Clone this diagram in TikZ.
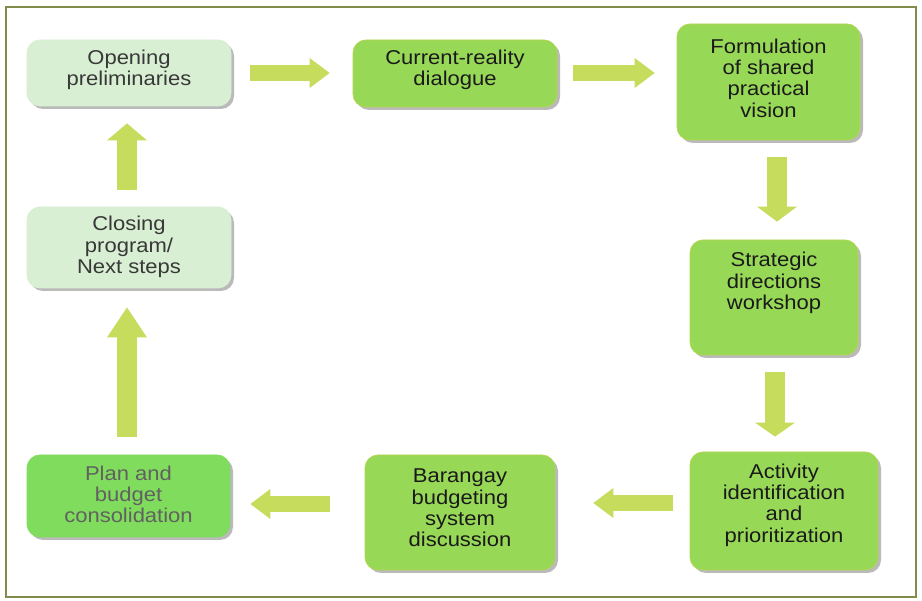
\documentclass[tikz,border=0pt]{standalone}
\usepackage{fontspec}
\setmainfont{Liberation Sans}[FakeStretch=1.1]
\usetikzlibrary{shadows,arrows.meta,calc}
\definecolor{frameC}{HTML}{7F8C4C}
\definecolor{boxG}{HTML}{98D857}
\definecolor{boxGedge}{HTML}{B2D64E}
\definecolor{boxPlan}{HTML}{80DC5C}
\definecolor{boxPale}{HTML}{D9EFD3}
\definecolor{arrC}{HTML}{C6DC5C}
\definecolor{txtC}{HTML}{1A1A1A}
\tikzset{
  box/.style={rectangle, rounded corners=13pt, fill=boxG, draw=boxGedge, line width=0.8pt,
    drop shadow={shadow xshift=3pt, shadow yshift=-3pt, opacity=0.45, fill=black!60}},
  palebox/.style={box, fill=boxPale, draw=boxPale},
  planbox/.style={box, fill=boxPlan, draw=boxPlan},
  txt/.style={align=center, text=txtC, font=\fontsize{20}{21.3}\selectfont, inner sep=0pt},
  harrow/.style={draw=arrC, line width=16pt, -{Triangle[width=30pt,length=20pt,line width=0pt]}},
  varrow/.style={draw=arrC, line width=20pt, -{Triangle[width=40pt,length=#1,line width=0pt]}},
}
\begin{document}
\begin{tikzpicture}[x=1pt,y=-1pt]
\useasboundingbox (0,0) rectangle (922,601);
\fill[white] (0,0) rectangle (922,601);
\draw[frameC, line width=2pt] (6,7) rectangle (916,597);

% boxes
\node[palebox, minimum width=204pt, minimum height=66pt] (open) at (129,73) {};
\node[txt, text=black!78] (open-t) at (129,70) {Opening\\preliminaries};

\node[palebox, minimum width=204pt, minimum height=81pt] (close) at (129,247.5) {};
\node[txt, text=black!78] (close-t) at (129,247) {Closing\\program/\\Next steps};

\node[box, minimum width=204pt, minimum height=67pt] (curr) at (455,73.5) {};
\node[txt] (curr-t) at (455,70) {Current-reality\\dialogue};

\node[box, minimum width=183pt, minimum height=116pt] (form) at (768.5,82) {};
\node[txt] (form-t) at (768.5,78) {Formulation\\of shared\\practical\\vision};

\node[box, minimum width=168pt, minimum height=115pt] (strat) at (774,297.5) {};
\node[txt] (strat-t) at (774,283) {Strategic\\directions\\workshop};

\node[box, minimum width=188pt, minimum height=118pt] (act) at (784,511) {};
\node[txt] (act-t) at (784,505) {Activity\\identification\\and\\prioritization};

\node[box, minimum width=190pt, minimum height=115pt] (bar) at (460,512.5) {};
\node[txt] (bar-t) at (460,508) {Barangay\\budgeting\\system\\discussion};

\node[planbox, minimum width=203pt, minimum height=82pt] (plan) at (128.5,496) {};
\node[txt, text=black!62] (plan-t) at (128.5,494.5) {Plan and\\budget\\consolidation};

% block arrows
\draw[harrow] ($(open.east)+(19,0)$) -- ($(open.east -| curr.west)+(-23,0)$);
\draw[harrow] ($(curr.east)+(16,-0.5)$) -- ($(curr.east -| form.west)+(-22,-0.5)$);
\draw[varrow=15pt] ($(form.south -| strat.north)+(3,17)$) -- ($(strat.north)+(3,-18)$);
\draw[varrow=14pt] ($(strat.south)+(1,17)$) -- ($(strat.north |- act.north)+(1,-15)$);
\draw[harrow] ($(act.west)+(-17,-8)$) -- ($(act.west -| bar.east)+(38,-8)$);
\draw[harrow] ($(bar.west)+(-35,-8.5)$) -- ($(bar.west -| plan.east)+(20,-8.5)$);
\draw[varrow=30pt] ($(plan.north)+(-1.5,-18)$) -- ($(plan.north |- close.south)+(-1.5,19)$);
\draw[varrow=17pt] ($(close.north)+(-2,-17)$) -- ($(close.north |- open.south)+(-2,17)$);
\end{tikzpicture}
\end{document}
